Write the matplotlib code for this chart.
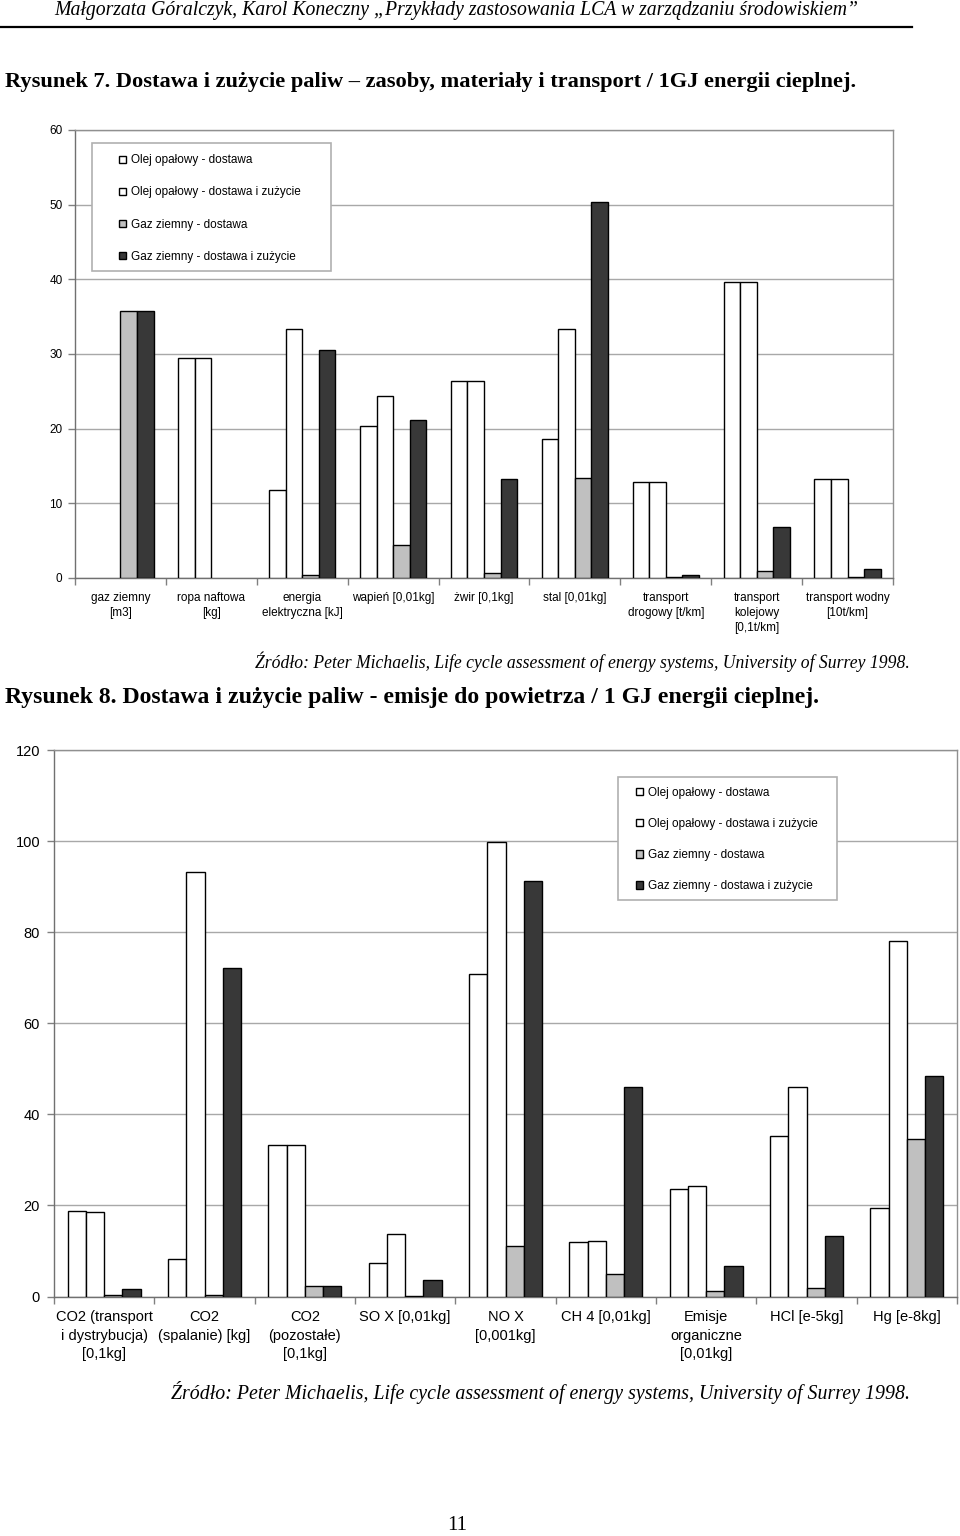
import matplotlib
matplotlib.use("Agg")
import matplotlib.pyplot as plt
import numpy as np
from matplotlib.patches import Rectangle
from matplotlib.lines import Line2D

W, H = 960, 1536

# ---------------- data ----------------
series_names = ["Olej opałowy - dostawa",
                "Olej opałowy - dostawa i zużycie",
                "Gaz ziemny - dostawa",
                "Gaz ziemny - dostawa i zużycie"]
series_colors = ["#ffffff", "#ffffff", "#c0c0c0", "#383838"]

categories1 = ["gaz ziemny\n[m3]", "ropa naftowa\n[kg]", "energia\nelektryczna [kJ]",
               "wapień [0,01kg]", "żwir [0,1kg]", "stal [0,01kg]",
               "transport\ndrogowy [t/km]", "transport\nkolejowy\n[0,1t/km]",
               "transport wodny\n[10t/km]"]
olej_dostawa1 = [np.nan, 29.4, 11.8, 20.3, 26.4, 18.6, 12.8, 39.6, 13.2]
olej_zuzycie1 = [np.nan, 29.4, 33.4, 24.4, 26.4, 33.3, 12.8, 39.6, 13.2]
gaz_dostawa1 = [35.7, np.nan, 0.45, 4.4, 0.7, 13.4, 0.1, 1.0, 0.2]
gaz_zuzycie1 = [35.7, np.nan, 30.5, 21.2, 13.2, 50.4, 0.45, 6.8, 1.2]
yticks1 = [0, 10, 20, 30, 40, 50, 60]

categories2 = ["CO2 (transport\ni dystrybucja)\n[0,1kg]", "CO2\n(spalanie) [kg]",
               "CO2\n(pozostałe)\n[0,1kg]", "SO X [0,01kg]", "NO X\n[0,001kg]",
               "CH 4 [0,01kg]", "Emisje\norganiczne\n[0,01kg]", "HCl [e-5kg]",
               "Hg [e-8kg]"]
olej_dostawa2 = [18.7, 8.2, 33.3, 7.4, 70.9, 11.9, 23.5, 35.3, 19.5]
olej_zuzycie2 = [18.5, 93.2, 33.2, 13.7, 99.7, 12.1, 24.2, 45.9, 78.1]
gaz_dostawa2 = [0.3, 0.3, 2.4, 0.2, 11.0, 5.0, 1.1, 1.85, 34.6]
gaz_zuzycie2 = [1.7, 72.2, 2.4, 3.6, 91.2, 46.1, 6.8, 13.3, 48.4]
yticks2 = [0, 20, 40, 60, 80, 100, 120]

header = "Małgorzata Góralczyk, Karol Koneczny „Przykłady zastosowania LCA w zarządzaniu środowiskiem”"
title1 = "Rysunek 7. Dostawa i zużycie paliw – zasoby, materiały i transport / 1GJ energii cieplnej."
title2 = "Rysunek 8. Dostawa i zużycie paliw - emisje do powietrza / 1 GJ energii cieplnej."
source = "Źródło: Peter Michaelis, Life cycle assessment of energy systems, University of Surrey 1998."
page_no = "11"

SANS = ["Liberation Sans", "DejaVu Sans"]
SERIF = ["Liberation Serif", "DejaVu Serif"]
plt.rcParams["font.family"] = SANS

fig = plt.figure(figsize=(W / 100, H / 100), dpi=100)
fig.patch.set_facecolor("white")


def px_axes(left, top, right, bottom):
    return fig.add_axes([left / W, 1 - bottom / H, (right - left) / W, (bottom - top) / H])


def draw_chart(ax, cats, series, yticks, fs, bw, xpad, ypad, lspace):
    n = len(cats)
    x = np.arange(n) + 0.5
    bars = []
    for j, (vals, col) in enumerate(zip(series, series_colors)):
        b = ax.bar(x + (j - 1.5) * bw, vals, width=bw, color=col,
                   edgecolor="black", linewidth=1.0, zorder=3)
        bars.append(b)
    ax.set_xlim(0, n)
    ax.set_ylim(yticks[0], yticks[-1])
    ax.set_yticks(yticks)
    ax.set_yticklabels([str(t) for t in yticks], fontsize=fs)
    ax.set_xticks(np.arange(n + 1))
    ax.set_xticklabels([])
    ax.set_xticks(x, minor=True)
    ax.set_xticklabels(cats, minor=True, fontsize=fs)
    for lbl in ax.get_xticklabels(minor=True):
        lbl.set_linespacing(lspace)
    ax.tick_params(axis="x", which="major", length=5, width=1, color="#808080", direction="out")
    ax.tick_params(axis="x", which="minor", length=0, pad=xpad)
    ax.tick_params(axis="y", length=5, width=1, color="#808080", direction="out", pad=ypad)
    ax.yaxis.grid(True, color="#a8a8a8", linewidth=1.0, zorder=0)
    ax.set_axisbelow(True)
    for s in ax.spines.values():
        s.set_color("#909090")
        s.set_linewidth(1.0)
    ax.spines["left"].set_color("#707070")
    ax.spines["bottom"].set_color("#707070")
    return bars


def legend_box(bars, box, x_marker, y_center, fs, lspacing):
    l, t, r, b = box
    fig.add_artist(Rectangle((l / W, 1 - b / H), (r - l) / W, (b - t) / H,
                             transform=fig.transFigure, facecolor="white",
                             edgecolor="#b0b0b0", linewidth=1.2, zorder=3))
    lg = fig.legend(handles=bars, labels=series_names, loc="center left",
                    bbox_to_anchor=(x_marker / W, 1 - y_center / H),
                    frameon=False, borderpad=0, borderaxespad=0,
                    handlelength=0.58, handleheight=0.58, handletextpad=0.4,
                    labelspacing=lspacing, prop={"family": SANS, "size": fs})
    lg.set_zorder(5)
    return lg


# ---------------- chart 1 ----------------
ax1 = px_axes(75, 130, 893, 578)
bars1 = draw_chart(ax1, categories1,
                   [olej_dostawa1, olej_zuzycie1, gaz_dostawa1, gaz_zuzycie1],
                   yticks1, 8.5, 0.182, 10, 4, 1.35)
legend_box(bars1, (92, 143, 331, 271), 119, 208.5, 8.5, 1.7)

# ---------------- chart 2 ----------------
ax2 = px_axes(54, 750, 957, 1296.5)
bars2 = draw_chart(ax2, categories2,
                   [olej_dostawa2, olej_zuzycie2, gaz_dostawa2, gaz_zuzycie2],
                   yticks2, 10.5, 0.182, 10, 5, 1.4)
legend_box(bars2, (618, 777, 837, 900), 636, 839.5, 8.5, 1.62)

# ---------------- page text ----------------
renderer = fig.canvas.get_renderer()


def fit_text(s, x, y, target_w, ha, **kw):
    t = fig.text(x / W, 1 - y / H, s, ha=ha, va="center", fontsize=14, **kw)
    bb = t.get_window_extent(renderer)
    t.set_fontsize(14 * target_w / bb.width)
    return t


fit_text(header, 456, 11, 808, "center", family=SERIF, style="italic")
fig.add_artist(Line2D([0, 912 / W], [1 - 27 / H, 1 - 27 / H], transform=fig.transFigure,
                      color="black", linewidth=1.6))
fit_text(title1, 5, 82, 850, "left", family=SERIF, weight="bold")
fit_text(source, 910, 662, 655, "right", family=SERIF, style="italic")
fit_text(title2, 5, 698, 815, "left", family=SERIF, weight="bold")
fit_text(source, 910, 1392, 740, "right", family=SERIF, style="italic")
fig.text(457 / W, 1 - 1525 / H, page_no, ha="center", va="center", fontsize=15, family=SERIF)

fig.savefig("out.png", dpi=100, facecolor="white")
